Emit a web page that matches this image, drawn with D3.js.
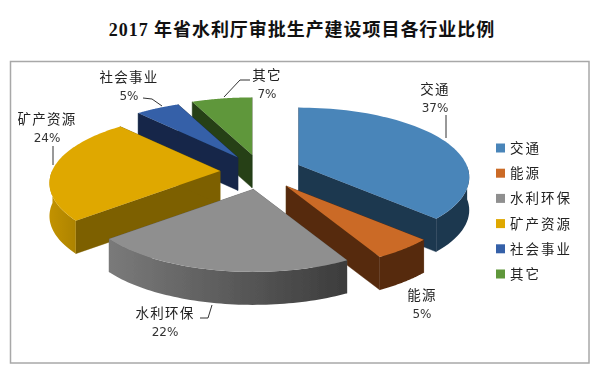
<!DOCTYPE html>
<html><head><meta charset="utf-8">
<style>html,body{margin:0;padding:0;background:#fff}svg{display:block}</style>
<script src="https://cdnjs.cloudflare.com/ajax/libs/d3/7.8.5/d3.min.js"></script>
</head><body><div id="c"></div>
<script>
const categories = ["交通","能源","水利环保","矿产资源","社会事业","其它"];
const values = [37,5,22,24,5,7];
const topColors = ["#4a85b9","#cb6b27","#8f8f8f","#dfa800","#3560a8","#5f973a"];
const cutColors = ["#1f3850","#562c0e","#5a5a5a","#7d6000","#162848","#263f18"];
const wallColors = [["#1f3850","#1f3850"],["#562c0e","#562c0e"],["#7a7a7a","#3c3c3c"],["#c29200","#8a6a00"],["#162848","#162848"],["#263f18","#263f18"]];
const titleText = "2017 年省水利厅审批生产建设项目各行业比例";
// label anchor: x, y of name line; leader polyline
const labelPos = [
 {x:435,y:89,lead:[[446,115],[446,138]]},
 {x:422,y:295,lead:[]},
 {x:165,y:313,lead:[[200,318],[208,318],[212,305]]},
 {x:47,y:119,lead:[[53,146],[53,165]]},
 {x:129,y:77,lead:[[143,98],[152,99],[162,106]]},
 {x:267,y:75,lead:[[250,80],[240,80],[224,97]]}
];
const W=600,H=375, cx=261, cy=172, ex=41, ey=17.6, R=168, Ry=70, k=0.18, depth=33;
const svg=d3.select("#c").append("svg").attr("width",W).attr("height",H);
const defs=svg.append("defs");
defs.append("filter").attr("id","soft").attr("x","-5%").attr("y","-5%").attr("width","110%").attr("height","110%")
  .append("feGaussianBlur").attr("stdDeviation",0.35);
svg.append("rect").attr("width",W).attr("height",H).attr("fill","#fff");
svg.append("text").text(titleText).attr("x",302).attr("y",36).attr("text-anchor","middle")
  .style("font-family","'Liberation Serif','Noto Sans CJK SC'").style("font-weight",700).style("font-size","18px").style("letter-spacing","0.95px").attr("fill","#111");
svg.append("rect").attr("x",10.5).attr("y",61.5).attr("width",578.5).attr("height",301.5).attr("fill","#fff").attr("stroke","#a8a8a8").attr("stroke-width",1.5);

const arcs=d3.pie().sort(null).value(d=>d).startAngle(0).endAngle(2*Math.PI)(values);
const line=d3.line();
const g=svg.append("g").attr("filter","url(#soft)");
const slices=arcs.map((a,i)=>{
  const mid=(a.startAngle+a.endAngle)/2;
  const ox=cx+ex*Math.sin(mid), oy=cy-ey*Math.cos(mid);
  const pt=t=>{const u=Math.sin(t),v=-Math.cos(t),s=1+k*v;return [ox+R*u*s,oy+Ry*v*s];};
  return {a,i,mid,ox,oy,pt,v:-Math.cos(mid)};
}).sort((p,q)=>p.v-q.v);
slices.forEach(s=>{
  const {a,i,ox,oy,pt}=s;
  const n=60, rim=d3.range(n+1).map(j=>a.startAngle+(a.endAngle-a.startAngle)*j/n);
  const rimPts=rim.map(pt);
  const gs=defs.append("linearGradient").attr("id","w"+i).attr("gradientUnits","userSpaceOnUse")
    .attr("x1",d3.min(rimPts,d=>d[0])).attr("x2",d3.max(rimPts,d=>d[0])).attr("y1",0).attr("y2",0);
  gs.append("stop").attr("offset",0).attr("stop-color",wallColors[i][0]);
  gs.append("stop").attr("offset",1).attr("stop-color",wallColors[i][1]);
  const down=p=>[p[0],p[1]+depth];
  // cut faces
  [rimPts[0],rimPts[n]].forEach(p=>{
    const q=[[ox,oy],p,down(p),[ox,oy+depth]];
    g.append("path").attr("d",line(q)+"Z").attr("fill",cutColors[i]).attr("stroke",cutColors[i]).attr("stroke-width",0.4);
  });
  // outer wall (visible front part)
  const front=rim.filter(t=>-Math.cos(t)>-0.02 ).map(pt);
  if(front.length>1){
    const q=front.concat(front.slice().reverse().map(down));
    g.append("path").attr("d",line(q)+"Z").attr("fill",`url(#w${i})`);
  }
  // top
  g.append("path").attr("d",line([[ox,oy]].concat(rimPts))+"Z").attr("fill",topColors[i]);
});

// leaders + labels
const lab=svg.append("g").attr("filter","url(#soft)");
categories.forEach((c,i)=>{
  const p=labelPos[i];
  if(p.lead.length) lab.append("path").attr("d",line(p.lead)).attr("fill","none").attr("stroke","#333").attr("stroke-width",1);
  lab.append("text").text(c).attr("x",p.x).attr("y",p.y+5).attr("text-anchor","middle")
    .style("font-family","'Noto Sans CJK SC'").style("font-size","13.5px").style("letter-spacing","1.2px").attr("fill","#222");
  lab.append("text").text(values[i]+"%").attr("x",p.x).attr("y",p.y+23).attr("text-anchor","middle")
    .style("font-family","'DejaVu Sans'").style("font-size","12px").attr("fill","#333");
});
// legend
const ly=d3.scalePoint().domain(categories).range([148,274]);
const leg=lab.selectAll("g.l").data(categories).join("g").attr("class","l").attr("transform",d=>`translate(496,${ly(d)})`);
leg.append("rect").attr("x",0).attr("y",-4.5).attr("width",9).attr("height",9).attr("fill",(d,i)=>topColors[i]);
leg.append("text").text(d=>d).attr("x",14).attr("y",5).style("font-family","'Noto Sans CJK SC'").style("font-size","13.5px").style("letter-spacing","2px").attr("fill","#222");
</script></body></html>
